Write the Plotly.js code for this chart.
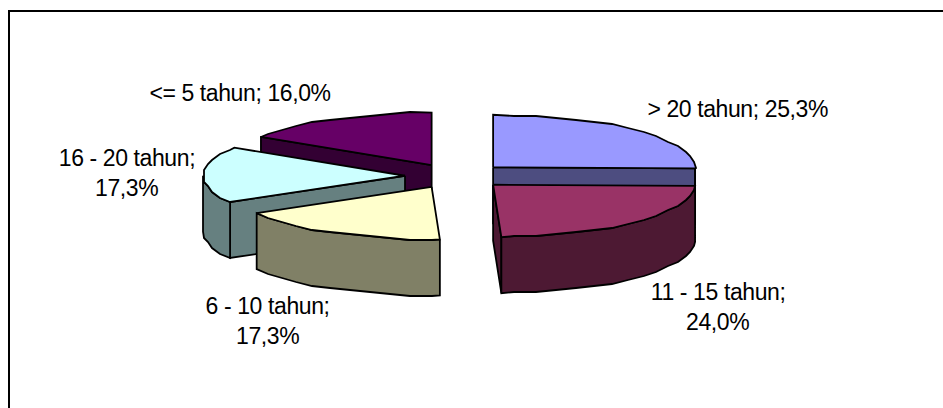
<!DOCTYPE html>
<html>
<head>
<meta charset="utf-8">
<script src="https://cdn.plot.ly/plotly-3.0.1.min.js"></script>
<style>
html,body{margin:0;padding:0;background:#fff}
#chart{width:943px;height:408px}
#chart .annotation-text{letter-spacing:-0.4px}
</style>
</head>
<body>
<div id="chart"></div>
<script>
// Share of respondents by length of service, clockwise from twelve o'clock.
const categories = ['> 20 tahun', '11 - 15 tahun', '6 - 10 tahun', '16 - 20 tahun', '<= 5 tahun'];
const percents = [25.3, 24.0, 17.3, 17.3, 16.0];
const topColors = ['#9999ff', '#993366', '#ffffcc', '#ccffff', '#660066'];
const sideColors = ['#4d4d80', '#4d1933', '#808066', '#668080', '#330033'];

// Whether a label wraps before its percentage, and where each label sits.
const labelWraps = [false, true, true, true, false];
const labelX = [737.5, 717.5, 267, 126.5, 239.5];
const labelY = [109, 292, 306, 158, 93];
const labelLineGap = 30;

// Projection of the tilted pie onto the axes.
const centre = {x: 456.4, y: 176};
const radius = {x: 202, y: 52.5};
const explode = {x: 51.4, y: 12.5};
const depth = 56;
const grid = 2;                // coarse outline raster of the arcs
const stepDeg = 6;

const rad = d => d * Math.PI / 180;
const snap = v => Math.round(v / grid) * grid;

const total = percents.reduce((a, b) => a + b, 0);
let running = 0;
const slices = percents.map((p, i) => {
  const from = running / total * 360;
  running += p;
  const to = running / total * 360;
  const mid = (from + to) / 2;
  return {i, from, to,
    apex: [centre.x + explode.x * Math.sin(rad(mid)), centre.y - explode.y * Math.cos(rad(mid))]};
});

const rimPoint = (s, deg) => [s.apex[0] + radius.x * Math.sin(rad(deg)), s.apex[1] - radius.y * Math.cos(rad(deg))];

function arc(s, a, b) {
  const pts = [rimPoint(s, a)];
  for (let d = Math.ceil(a / stepDeg) * stepDeg; d < b; d += stepDeg) {
    if (d > a) { const p = rimPoint(s, d); pts.push([snap(p[0]), snap(p[1])]); }
  }
  pts.push(rimPoint(s, b));
  return pts;
}

function face(points, color) {
  const closed = points.concat([points[0]]);
  return {
    type: 'scatter', mode: 'lines', fill: 'toself', fillcolor: color,
    x: closed.map(p => p[0]), y: closed.map(p => p[1]),
    line: {color: '#000', width: 1.8, simplify: false, shape: 'linear'},
    hoverinfo: 'skip', showlegend: false
  };
}

const down = p => [p[0], p[1] + depth];
const traces = [];

// Paint from the back of the pie to the front so nearer slices overlap.
[4, 0, 3, 1, 2].forEach(k => {
  const s = slices[k];
  if (Math.sin(rad(s.from)) < 0) {
    const r = rimPoint(s, s.from);
    traces.push(face([s.apex, r, down(r), down(s.apex)], sideColors[k]));
  }
  if (Math.sin(rad(s.to)) > 0) {
    const r = rimPoint(s, s.to);
    traces.push(face([s.apex, r, down(r), down(s.apex)], sideColors[k]));
  }
  const a = Math.max(s.from, 90), b = Math.min(s.to, 270);
  if (a < b) {
    const edge = arc(s, a, b);
    traces.push(face(edge.concat(edge.slice().reverse().map(down)), sideColors[k]));
  }
  traces.push(face([s.apex].concat(arc(s, s.from, s.to)), topColors[k]));
});

const annotations = [];
const labelFont = {family: '"Liberation Sans", Arial, sans-serif', size: 23, color: '#000'};
categories.forEach((c, i) => {
  const pct = percents[i].toFixed(1).replace('.', ',') + '%';
  const lines = labelWraps[i] ? [c + ';', pct] : [c + '; ' + pct];
  lines.forEach((t, n) => annotations.push({
    x: labelX[i], y: labelY[i] + n * labelLineGap, xref: 'x', yref: 'y',
    text: t.replace(/</g, '&lt;').replace(/>/g, '&gt;'),
    showarrow: false, xanchor: 'center', yanchor: 'middle', font: labelFont
  }));
});

const layout = {
  width: 943, height: 408,
  margin: {l: 0, r: 0, t: 0, b: 0},
  paper_bgcolor: '#fff', plot_bgcolor: '#fff',
  showlegend: false,
  xaxis: {range: [0, 943], visible: false, fixedrange: true},
  yaxis: {range: [408, 0], visible: false, fixedrange: true},
  annotations,
  shapes: [
    {type: 'line', xref: 'x', yref: 'y', x0: 9, y0: 11, x1: 943, y1: 11, line: {color: '#000', width: 2}},
    {type: 'line', xref: 'x', yref: 'y', x0: 9, y0: 10, x1: 9, y1: 408, line: {color: '#000', width: 2}}
  ]
};

Plotly.newPlot('chart', traces, layout, {displayModeBar: false, staticPlot: true});
</script>
</body>
</html>
